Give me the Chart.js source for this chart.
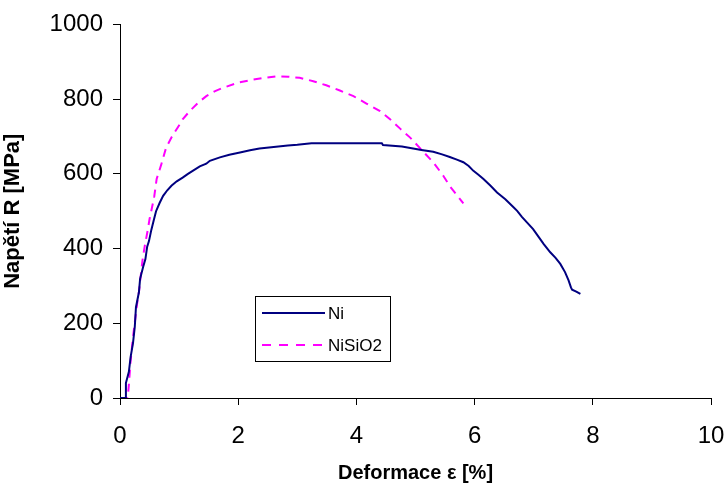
<!DOCTYPE html>
<html>
<head>
<meta charset="utf-8">
<script src="https://cdn.jsdelivr.net/npm/chart.js@4"></script>
<style>
  body { margin: 0; background: #fff; }
  #wrap { width: 726px; height: 487px; position: relative; }
</style>
</head>
<body>
<div id="wrap"><canvas id="stress-chart"></canvas></div>
<script>
// strain [%] and stress [MPa]
const niStrain = [0, 0.1, 0.1, 0.15, 0.18, 0.22, 0.25, 0.27, 0.32, 0.34, 0.39, 0.43, 0.46, 0.49, 0.53, 0.57,
  0.61, 0.67, 0.73, 0.8, 0.87, 0.96, 1.06, 1.15, 1.23, 1.35, 1.46, 1.52, 1.69, 1.85, 2.03, 2.2, 2.36, 2.6,
  2.84, 3.0, 3.24, 3.8, 4.43, 4.45, 4.77, 4.96, 5.1, 5.3, 5.45, 5.58, 5.7, 5.81, 5.9, 5.98, 6.07, 6.15,
  6.27, 6.38, 6.52, 6.65, 6.72, 6.8, 6.99, 7.08, 7.17, 7.28, 7.37, 7.45, 7.53, 7.59, 7.63, 7.65, 7.72, 7.79];
const niStress = [0, 0, 40, 70, 110, 147, 190, 243, 283, 319, 350, 372, 405, 420, 450, 475,
  500, 522, 541, 556, 568, 580, 590, 600, 608, 620, 627, 635, 644, 651, 657, 663, 668, 672,
  676, 678, 682, 682, 682, 677, 673, 668, 664, 659, 652, 645, 638, 631, 621, 608, 597, 586,
  568, 550, 532, 512, 501, 485, 452, 432, 412, 390, 375, 359, 337, 315, 296, 290, 285, 279];

const sio2Strain = [0, 0.13, 0.15, 0.18, 0.22, 0.29, 0.32, 0.38, 0.42, 0.47, 0.5, 0.53, 0.58, 0.62, 0.7,
  0.78, 0.87, 0.92, 1.01, 1.06, 1.18, 1.32, 1.46, 1.6, 1.74, 2.0, 2.25, 2.45, 2.65, 2.85, 3.04, 3.27,
  3.49, 3.72, 3.95, 4.17, 4.4, 4.57, 4.74, 4.91, 5.08, 5.3, 5.47, 5.58, 5.71, 5.81];
const sio2Stress = [0, 0, 35, 100, 163, 253, 283, 368, 408, 450, 479, 501, 540, 586, 626,
  670, 697, 710, 732, 746, 768, 790, 808, 821, 830, 844, 852, 857, 861, 860, 857, 848,
  837, 823, 808, 788, 768, 746, 721, 697, 668, 631, 595, 567, 541, 521];

const seriesNames = ['Ni', 'NiSiO2'];
const xTicks = { min: 0, max: 10, step: 2 };
const yTicks = { min: 0, max: 1000, step: 200 };

const COLORS = {
  ni: '#000080',
  sio2: '#ff00ff',
  axis: '#000000',
};

function toPoints(xs, ys) {
  return xs.map((x, i) => ({ x: x, y: ys[i] }));
}

// legend box sitting inside the plot, like the original
const boxLegend = {
  id: 'boxLegend',
  afterDraw(chart) {
    const ctx = chart.ctx;
    const left = 255, top = 296, w = 135, h = 65;
    ctx.save();
    ctx.fillStyle = '#fff';
    ctx.fillRect(left, top, w, h);
    ctx.strokeStyle = '#000';
    ctx.lineWidth = 1;
    ctx.strokeRect(left + 0.5, top + 0.5, w, h);

    const items = [
      { label: seriesNames[0], color: COLORS.ni, dash: [], y: 313 },
      { label: seriesNames[1], color: COLORS.sio2, dash: [9, 8], y: 345 },
    ];
    ctx.font = '17px "Liberation Sans", Arial, sans-serif';
    ctx.textBaseline = 'middle';
    items.forEach((it) => {
      ctx.beginPath();
      ctx.setLineDash(it.dash);
      ctx.strokeStyle = it.color;
      ctx.lineWidth = 2;
      ctx.moveTo(262, it.y);
      ctx.lineTo(325, it.y);
      ctx.stroke();
      ctx.setLineDash([]);
      ctx.fillStyle = '#000';
      ctx.fillText(it.label, 328, it.y + 1);
    });
    ctx.restore();
  },
};

const axisFont = { family: '"Liberation Sans", Arial, sans-serif', size: 24 };
const xTitleFont = { family: '"Liberation Sans", Arial, sans-serif', size: 20, weight: 'bold' };
const yTitleFont = { family: '"Liberation Sans", Arial, sans-serif', size: 22, weight: 'bold' };

new Chart(document.getElementById('stress-chart'), {
  type: 'scatter',
  data: {
    datasets: [
      {
        label: seriesNames[0],
        data: toPoints(niStrain, niStress),
        showLine: true,
        borderColor: COLORS.ni,
        borderWidth: 2,
        pointRadius: 0,
        tension: 0,
      },
      {
        label: seriesNames[1],
        data: toPoints(sio2Strain, sio2Stress),
        showLine: true,
        borderColor: COLORS.sio2,
        borderWidth: 2,
        borderDash: [8, 6],
        pointRadius: 0,
        tension: 0,
      },
    ],
  },
  options: {
    responsive: true,
    maintainAspectRatio: false,
    animation: false,
    layout: { padding: { left: 0, top: 23, right: 15, bottom: 0 } },
    plugins: {
      legend: { display: false },
      tooltip: { enabled: false },
    },
    scales: {
      x: {
        type: 'linear',
        min: xTicks.min,
        max: xTicks.max,
        afterFit: (scale) => {
          scale.height = 89;
          scale.paddingLeft = 0;
          scale.paddingRight = 0;
        },
        ticks: {
          stepSize: xTicks.step, color: '#000', font: axisFont, padding: 17, maxRotation: 0,
          callback: (v) => String(v),
        },
        grid: { drawOnChartArea: false, drawTicks: true, tickLength: 7, color: COLORS.axis },
        border: { color: COLORS.axis, width: 1 },
        title: { display: true, text: 'Deformace ε [%]', color: '#000', font: xTitleFont, padding: { top: 0, bottom: 2 } },
      },
      y: {
        min: yTicks.min,
        max: yTicks.max,
        afterFit: (scale) => { scale.width = 120; },
        ticks: {
          stepSize: yTicks.step, color: '#000', font: axisFont, padding: 10,
          callback: (v) => String(v),
        },
        grid: { drawOnChartArea: false, drawTicks: true, tickLength: 7, color: COLORS.axis },
        border: { color: COLORS.axis, width: 1 },
        title: { display: true, text: 'Napětí R [MPa]', color: '#000', font: yTitleFont, padding: { top: 0, bottom: 10 } },
      },
    },
  },
  plugins: [boxLegend],
});
</script>
</body>
</html>
